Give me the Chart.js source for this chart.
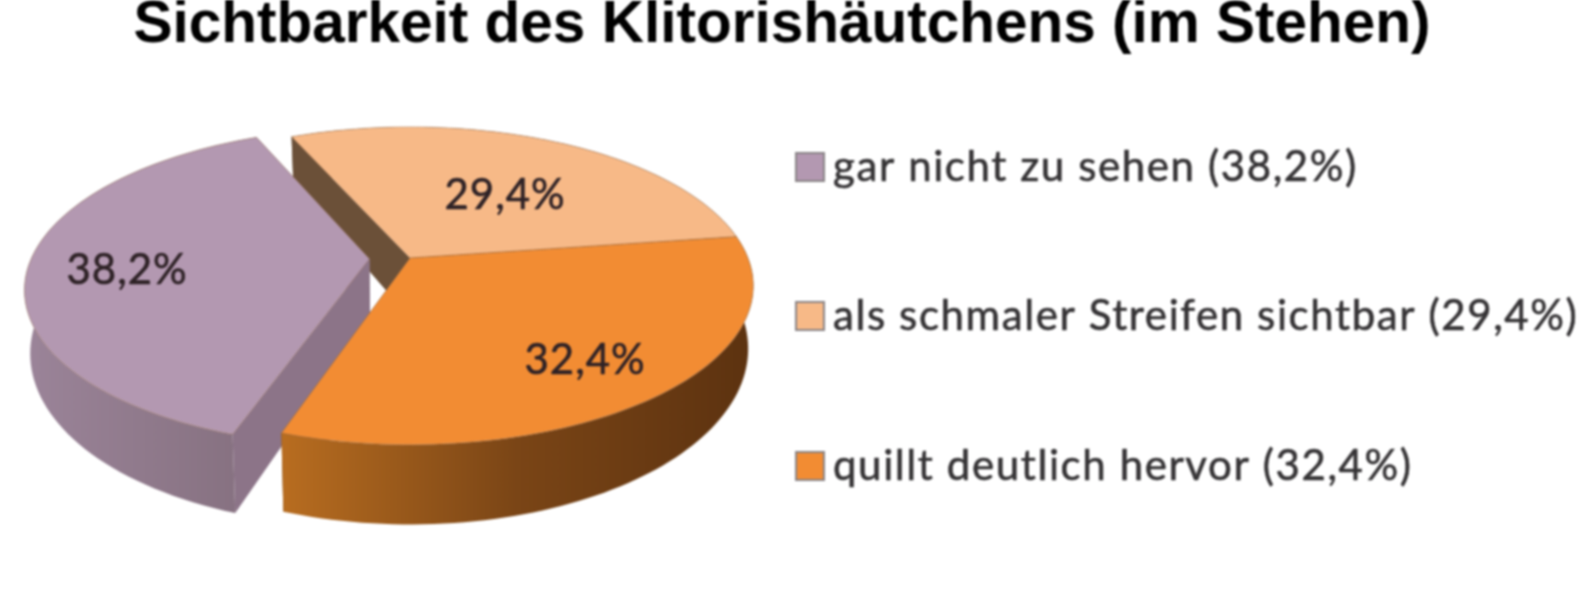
<!DOCTYPE html>
<html lang="de">
<head>
<meta charset="utf-8">
<title>Sichtbarkeit des Klitorishäutchens</title>
<script src="https://cdn.jsdelivr.net/npm/chart.js@4"></script>
<style>
  html, body { margin:0; padding:0; background:#fff; }
  canvas { display:block; filter:blur(0.8px); }
</style>
</head>
<body>
<canvas id="pie" width="1594" height="602"></canvas>
<script>
/* data */
const titleText = 'Sichtbarkeit des Klitorishäutchens (im Stehen)';
const categories = ['gar nicht zu sehen', 'als schmaler Streifen sichtbar', 'quillt deutlich hervor'];
const shares = [38.2, 29.4, 32.4];

/* colours of the three slices */
const topColors  = ['#b398b1', '#f7b987', '#f28c33'];
const cutColors  = ['#8c7488', '#6b5038', '#6b4015'];
const wallStops  = [['#9b8499', '#85707f'], ['#6b5038', '#6b5038'], ['#b86d20', '#7a4516', '#5c3210']];
const sliceExplode = [0.12, 0, 0];
const labelSpots = [[-0.825, 0.0823], [0.303, -0.4375], [0.464, 0.595]];

/* tilted view of the pie: unit disc -> screen */
const view = { ox:410, oy:258, px:338, qy:154, w:0.175, sx:0.985, sy:1.106, depth:60 };
const project = (u, v) => {
  const d = 1 - view.w * v;
  return [view.ox + view.px * u / d, view.oy + view.qy * v / d];
};
const lower = p => [view.ox + view.sx * (p[0] - view.ox), view.oy + view.depth + view.sy * (p[1] - view.oy)];
const pct = v => v.toFixed(1).replace('.', ',') + '%';

function poly(ctx, pts, fill) {
  ctx.beginPath();
  pts.forEach((p, i) => i ? ctx.lineTo(p[0], p[1]) : ctx.moveTo(p[0], p[1]));
  ctx.closePath();
  ctx.fillStyle = fill;
  ctx.fill();
}

function heavyText(ctx, text, x, y, color) {
  ctx.fillStyle = color;
  ctx.strokeStyle = color;
  ctx.lineWidth = 0.6;
  ctx.fillText(text, x, y);
  ctx.strokeText(text, x, y);
}

const pie3d = {
  id: 'pie3d',
  beforeDatasetDraw: () => false,
  afterDatasetsDraw(chart) {
    const ctx = chart.ctx;
    const arcs = chart.getDatasetMeta(0).data;
    ctx.save();
    [1, 0, 2].forEach(i => {
      const arc = arcs[i];
      const mid = (arc.startAngle + arc.endAngle) / 2;
      const eu = sliceExplode[i] * Math.cos(mid), ev = sliceExplode[i] * Math.sin(mid);
      const rim = [];
      for (let k = 0; k <= 80; k++) {
        const a = arc.startAngle + (arc.endAngle - arc.startAngle) * k / 80;
        rim.push(project(eu + Math.cos(a), ev + Math.sin(a)));
      }
      const apex = project(eu, ev);
      const rimLow = rim.map(lower);
      // cut faces
      poly(ctx, [apex, rim[0], rimLow[0], lower(apex)], cutColors[i]);
      poly(ctx, [apex, rim[80], rimLow[80], lower(apex)], cutColors[i]);
      // outer wall
      const xs = rim.map(p => p[0]);
      const g = ctx.createLinearGradient(Math.min(...xs), 0, Math.max(...xs), 0);
      wallStops[i].forEach((c, n, all) => g.addColorStop(n / (all.length - 1), c));
      poly(ctx, rim.concat(rimLow.slice().reverse()), g);
      // top face
      poly(ctx, [apex].concat(rim), topColors[i]);
      ctx.strokeStyle = 'rgba(150,110,80,0.45)';
      ctx.lineWidth = 1;
      ctx.stroke();
    });
    // value labels
    ctx.font = '42px Lato';
    ctx.letterSpacing = '1px';
    ctx.textAlign = 'center';
    ctx.textBaseline = 'middle';
    shares.forEach((s, i) => {
      const p = project(labelSpots[i][0], labelSpots[i][1]);
      heavyText(ctx, pct(s), p[0], p[1], '#2e2226');
    });
    // legend
    const rowY = [167, 316, 466];
    ctx.textAlign = 'left';
    ctx.font = '42px Lato';
    ctx.letterSpacing = '1.6px';
    categories.forEach((c, i) => {
      ctx.fillStyle = topColors[i];
      ctx.fillRect(796, rowY[i] - 14, 28, 28);
      ctx.strokeStyle = '#8a8486';
      ctx.lineWidth = 2;
      ctx.strokeRect(796, rowY[i] - 14, 28, 28);
      heavyText(ctx, c + ' (' + pct(shares[i]) + ')', 833, rowY[i], '#353335');
    });
    ctx.restore();
  }
};

new Chart(document.getElementById('pie'), {
  type: 'pie',
  data: {
    labels: categories,
    datasets: [{ data: shares, backgroundColor: topColors, borderWidth: 0 }]
  },
  options: {
    responsive: false,
    animation: false,
    rotation: 198.5,
    layout: { padding: { right: 30 } },
    plugins: {
      legend: { display: false },
      tooltip: { enabled: false },
      title: {
        display: true,
        text: titleText,
        color: '#000',
        font: { family: '"Liberation Sans"', size: 58.5, weight: 'bold' },
        padding: { top: -9, bottom: 10 }
      }
    }
  },
  plugins: [pie3d]
});
</script>
</body>
</html>
